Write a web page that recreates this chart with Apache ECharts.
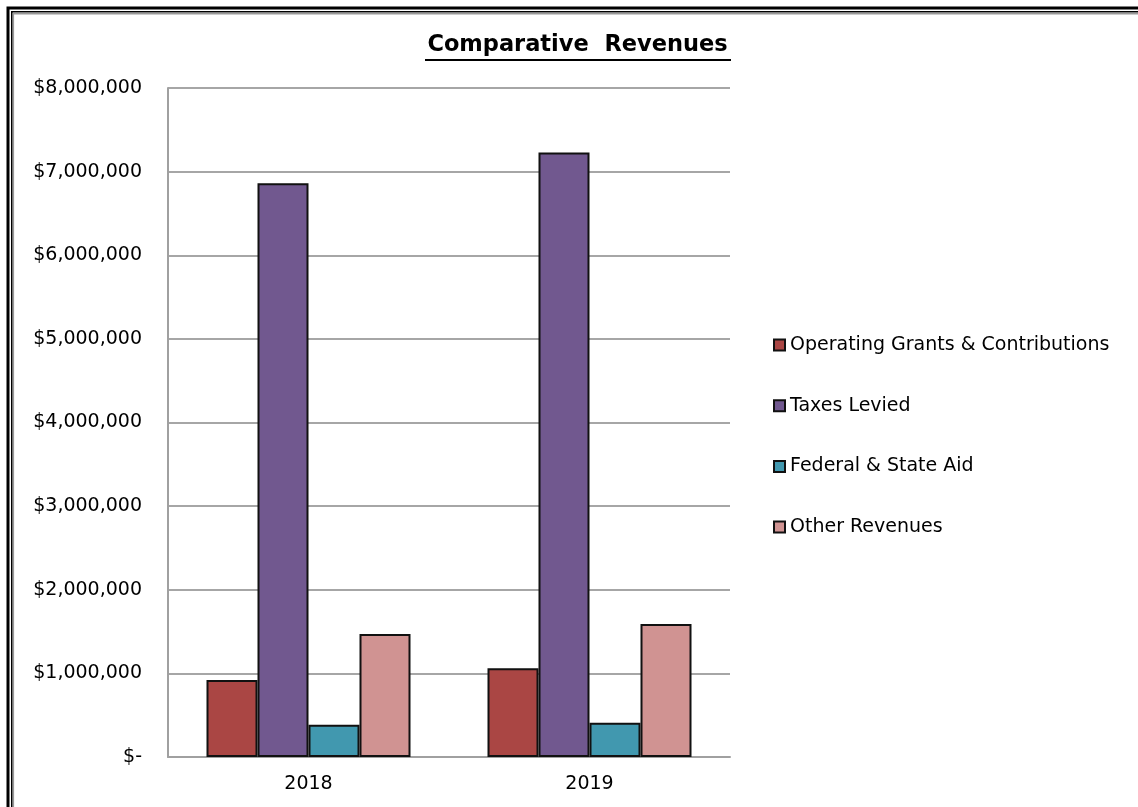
<!DOCTYPE html>
<html>
<head>
<meta charset="utf-8">
<script src="https://cdn.jsdelivr.net/npm/echarts@6/dist/echarts.min.js"></script>
<style>
html,body{margin:0;padding:0;background:#fff;}
#chart{width:1138px;height:807px;}
</style>
</head>
<body>
<div id="chart"></div>
<script>
const categories = ['2018', '2019'];
const seriesNames = ['Operating Grants & Contributions', 'Taxes Levied', 'Federal & State Aid', 'Other Revenues'];
const operatingGrants = [920000, 1060000];
const taxesLevied = [6860000, 7230000];
const federalStateAid = [385000, 410000];
const otherRevenues = [1470000, 1590000];
const yTicks = [0, 1000000, 2000000, 3000000, 4000000, 5000000, 6000000, 7000000, 8000000];

const colors = ['#AA4644', '#71588F', '#4198AF', '#D09392'];
const values = [operatingGrants, taxesLevied, federalStateAid, otherRevenues];
const font = 'DejaVu Sans';

function fmt(v) {
  if (v === 0) return '$-';
  return '$' + String(v).replace(/\B(?=(\d{3})+(?!\d))/g, ',');
}

const chart = echarts.init(document.getElementById('chart'), null, {renderer: 'canvas'});
chart.setOption({
  animation: false,
  backgroundColor: '#fff',
  title: {
    text: 'Comparative  Revenues',
    left: 577.5,
    textAlign: 'center',
    top: 34,
    padding: 0,
    textStyle: {fontFamily: font, fontWeight: 'bold', fontSize: 22.5, color: '#000'}
  },
  legend: {
    orient: 'vertical',
    left: 773,
    top: 335,
    padding: 0,
    itemWidth: 11,
    itemHeight: 11,
    itemGap: 40.7,
    icon: 'rect',
    data: seriesNames,
    textStyle: {fontFamily: font, fontSize: 19, color: '#000', lineHeight: 20}
  },
  grid: {left: 168, right: 408, top: 88, bottom: 50, containLabel: false},
  xAxis: {
    type: 'category',
    data: categories,
    axisLine: {lineStyle: {color: '#a0a0a0', width: 2}},
    axisTick: {show: false},
    axisLabel: {fontFamily: font, fontSize: 19, color: '#000', margin: 18}
  },
  yAxis: {
    type: 'value',
    min: yTicks[0],
    max: yTicks[yTicks.length - 1],
    interval: yTicks[1] - yTicks[0],
    axisLine: {show: true, lineStyle: {color: '#a0a0a0', width: 2}},
    axisTick: {show: false},
    splitLine: {lineStyle: {color: '#a6a6a6', width: 2}},
    axisLabel: {fontFamily: font, fontSize: 19, color: '#000', margin: 26, formatter: fmt}
  },
  series: seriesNames.map((name, i) => ({
    name: name,
    type: 'bar',
    data: values[i],
    barWidth: 51,
    barGap: '0%',
    itemStyle: {color: colors[i], borderColor: '#111', borderWidth: 2}
  })),
  graphic: [
    {type: 'polyline', shape: {points: [[8, 807], [8, 8], [1138, 8]]}, style: {stroke: '#000', lineWidth: 3, fill: null}, silent: true},
    {type: 'polyline', shape: {points: [[11.8, 807], [11.8, 11.8], [1138, 11.8]]}, style: {stroke: '#000', lineWidth: 1.6, fill: null}, silent: true},
    {type: 'polyline', shape: {points: [[13.4, 807], [13.4, 13.8], [1138, 13.8]]}, style: {stroke: '#999', lineWidth: 1.4, fill: null}, silent: true},
    {type: 'line', shape: {x1: 425, y1: 60, x2: 731, y2: 60}, style: {stroke: '#000', lineWidth: 2}, silent: true}
  ]
});
</script>
</body>
</html>
